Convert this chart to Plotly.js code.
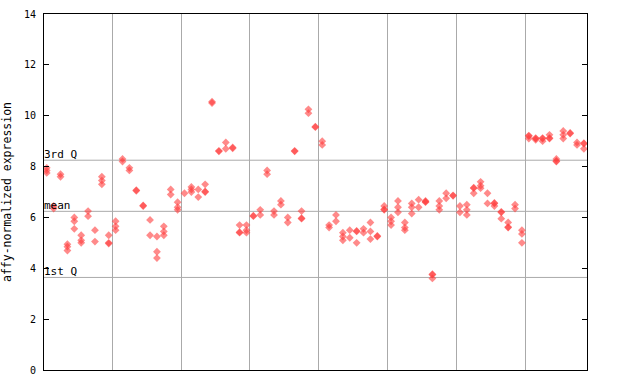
<!DOCTYPE html>
<html>
<head>
<meta charset="utf-8">
<script src="https://cdn.plot.ly/plotly-3.0.1.min.js"></script>
<style>html,body{margin:0;padding:0;background:#fff;}#chart{width:640px;height:384px;}</style>
</head>
<body>
<div id="chart"></div>
<script>
// replicate values per sample, grouped between the vertical separators
const group1 = [[7.75,7.85,7.95],[6.45,6.35],[7.6,7.7],[4.7,4.85,4.95],[5.55,5.85,6.0],[5.0,5.1,5.3],[6.05,6.25],[5.05,5.5],[7.3,7.45,7.6],[5.3,4.97,5.0]];
const group2 = [[5.5,5.65,5.85],[8.2,8.3],[7.95,7.85],[7.05,7.07],[6.45,6.47],[5.9,5.3],[5.25,4.65,4.4],[5.3,5.45,5.65],[7.1,6.9],[6.6,6.4,6.3]];
const group3 = [[6.95],[7.2,7.0,7.1],[7.1,6.8],[7.3,7.0,7.02],[10.55,10.5],[8.6,8.62],[8.95,8.7],[8.75,8.72],[5.7,5.4,5.42],[5.7,5.5,5.4]];
const group4 = [[6.05,6.07],[6.3,6.1],[7.85,7.7],[6.25,6.1],[6.65,6.5],[6.0,5.8],[8.6,8.62],[6.25,5.95,5.97],[10.25,10.1],[9.55,9.57]];
const group5 = [[9.0,8.85],[5.7,5.6],[6.1,5.85],[5.4,5.25,5.1],[5.5,5.2],[5.45,5.47,5.0],[5.55,5.4],[5.8,5.45,5.15],[5.25,5.27],[6.45,6.3,6.32]];
const group6 = [[6.0,5.85,5.7],[6.65,6.4,6.2],[5.8,5.6,5.5],[6.55,6.4,6.15],[6.7,6.4],[6.65,6.6,6.62],[3.75,3.6,3.77],[6.65,6.45,6.3],[6.95,6.75],[6.85,6.87]];
const group7 = [[6.45,6.2],[6.5,6.3,6.1],[7.15,6.95,7.17],[7.4,7.25,7.15],[6.95,6.55],[6.55,6.45,6.57],[6.2,5.95,6.22],[5.8,5.6,5.62],[6.5,6.35],[5.5,5.35,5.0]];
const group8 = [[9.2,9.1,9.22],[9.1,9.05,9.12],[9.1,9.0,9.12],[9.25,9.1,9.12],[8.3,8.2,8.22],[9.4,9.25,9.1],[9.3,9.32],[8.95,8.85],[8.9,8.7,8.92]];
const groupSeparators = [9.5,19.5,29.5,39.5,49.5,59.5,69.5];
const yTicks = [0,2,4,6,8,10,12,14];
const refLines = [{label:"3rd Q", value:8.25},{label:"mean", value:6.24},{label:"1st Q", value:3.64}];

const allSamples = [].concat(group1,group2,group3,group4,group5,group6,group7,group8);
const xs = [], ys = [];
allSamples.forEach((reps,i)=>{ reps.forEach(v=>{ xs.push(i); ys.push(v); }); });

const mono = "DejaVu Sans Mono, monospace";
const trace = {
  type:"scatter", mode:"markers", x:xs, y:ys, hoverinfo:"none",
  marker:{symbol:"diamond", size:6, color:"rgba(255,60,60,0.6)", line:{width:0}}
};

const shapes = refLines.map(r=>({type:"line", xref:"paper", x0:0, x1:1, yref:"y", y0:r.value, y1:r.value, line:{color:"#aaaaaa", width:1}, layer:"below"}));
const annotations = refLines.map(r=>({xref:"paper", x:0, xanchor:"left", xshift:-2, yref:"y", y:r.value, yanchor:"bottom", yshift:-3, text:r.label, showarrow:false, font:{family:mono, size:11, color:"#000"}}));

const layout = {
  width:640, height:384,
  margin:{l:44, r:53, t:14, b:14},
  paper_bgcolor:"#fff", plot_bgcolor:"#fff",
  showlegend:false,
  xaxis:{range:[-0.4,78.45], tickvals:groupSeparators, showticklabels:false, ticks:"", showgrid:true, gridcolor:"#aaaaaa", gridwidth:1, zeroline:false, showline:true, linecolor:"#000", linewidth:1, mirror:true, fixedrange:true},
  yaxis:{range:[0,14], tickvals:yTicks, ticks:"inside", ticklen:5, tickcolor:"#000", showgrid:false, zeroline:false, showline:true, linecolor:"#000", linewidth:1, mirror:"ticks", tickfont:{family:mono, size:10, color:"#000"}, ticklabelstandoff:5,
    title:{text:"affy-normalized expression", font:{family:mono, size:11.5, color:"#000"}, standoff:10}, fixedrange:true},
  shapes:shapes, annotations:annotations
};
Plotly.newPlot("chart",[trace],layout,{staticPlot:true, displayModeBar:false});
</script>
</body>
</html>
